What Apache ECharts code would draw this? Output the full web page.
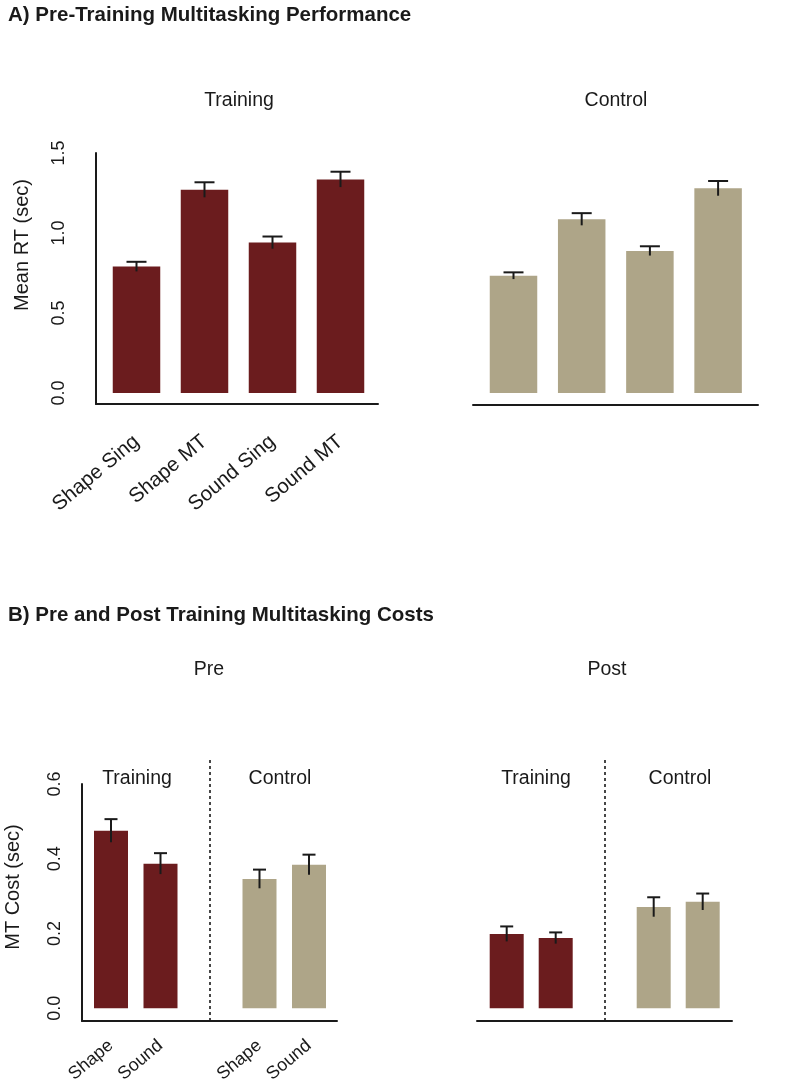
<!DOCTYPE html>
<html><head><meta charset="utf-8">
<script src="https://cdn.jsdelivr.net/npm/echarts@6/dist/echarts.min.js"></script>
<style>html,body{margin:0;padding:0;background:#fff}#c{width:799px;height:1088px}</style>
</head><body><div id="c"></div>
<script>
// ---------- data ----------
const preCategories = ['Shape Sing', 'Shape MT', 'Sound Sing', 'Sound MT'];
const preTrainingRT = [0.79, 1.27, 0.94, 1.335];
const preTrainingRTErr = [0.03, 0.047, 0.038, 0.048];
const preControlRT = [0.733, 1.086, 0.888, 1.279];
const preControlRTErr = [0.021, 0.038, 0.029, 0.046];
const rtTicks = [0, 0.5, 1.0, 1.5];

const costCategories = ['Shape', 'Sound'];
const preTrainingCost = [0.475, 0.387];
const preTrainingCostErr = [0.031, 0.028];
const preControlCost = [0.346, 0.384];
const preControlCostErr = [0.025, 0.027];
const postTrainingCost = [0.199, 0.188];
const postTrainingCostErr = [0.020, 0.015];
const postControlCost = [0.271, 0.285];
const postControlCostErr = [0.026, 0.022];
const costTicks = [0, 0.2, 0.4, 0.6];

// ---------- style ----------
const RED = '#6b1c1e';
const TAN = '#aea588';
const INK = '#1a1a1a';
const FONT = '"Liberation Sans", Arial, Helvetica, sans-serif';

const chart = echarts.init(document.getElementById('c'), null, {renderer: 'canvas'});

// bottom axis categories: training pair, gap, control pair
const costAxis = costCategories.concat([''], costCategories);
const gapIdx = costCategories.length;
function leftPart(arr) { return arr.concat(costAxis.slice(arr.length).map(() => '-')); }
function rightPart(arr) { return costAxis.slice(0, gapIdx + 1).map(() => '-').concat(arr); }
function errData(means, errs, start) { return means.map((m, i) => [start + i, m, errs[i]]); }

function errRender(capW) {
  return function (params, api) {
    const x = api.value(0), m = api.value(1), e = api.value(2);
    const hi = api.coord([x, m + e]);
    const lo = api.coord([x, m - e]);
    const st = {stroke: INK, lineWidth: 2};
    return {type: 'group', children: [
      {type: 'line', shape: {x1: hi[0], y1: hi[1], x2: lo[0], y2: lo[1]}, style: st},
      {type: 'line', shape: {x1: hi[0] - capW / 2, y1: hi[1], x2: hi[0] + capW / 2, y2: hi[1]}, style: st}
    ]};
  };
}

const hidden = {show: false};
function barX(gi, cats, showLabels, margin, size) {
  return {type: 'category', gridIndex: gi, data: cats, boundaryGap: true,
    axisLine: hidden, axisTick: hidden, splitLine: hidden,
    axisLabel: {show: showLabels, interval: 0, rotate: 40, margin: margin,
      fontFamily: FONT, fontSize: size, color: INK}};
}
function barY(gi, max, ticks, showLabels, margin) {
  return {type: 'value', gridIndex: gi, min: 0, max: max,
    axisLine: hidden, axisTick: hidden, splitLine: hidden,
    axisLabel: {show: showLabels, rotate: 90, margin: margin, customValues: ticks,
      formatter: v => v.toFixed(1), fontFamily: FONT, fontSize: 18, color: INK}};
}
const frameLine = {show: true, lineStyle: {color: INK, width: 2}};
function frameAxis(gi, showLine) {
  return {type: 'value', gridIndex: gi, min: 0, max: 1, show: showLine,
    axisLine: frameLine, axisTick: hidden, axisLabel: hidden, splitLine: hidden};
}
function txt(t, x, y) {
  return {type: 'text', x: x, y: y, style: {text: t, font: '19.5px ' + FONT, fill: INK,
    textAlign: 'center', textVerticalAlign: 'middle'}};
}
function rtxt(t, x, y) {
  return {type: 'text', x: x, y: y, rotation: Math.PI / 2, style: {text: t, font: '20px ' + FONT, fill: INK,
    textAlign: 'center', textVerticalAlign: 'middle'}};
}

const option = {
  animation: false,
  backgroundColor: '#fff',
  grid: [
    {left: 102.5, top: 153, width: 272, height: 240},     // 0 TL bars
    {left: 96, top: 153, width: 282, height: 251},        // 1 TL frame
    {left: 479.4, top: 153, width: 272.8, height: 240},   // 2 TR bars
    {left: 473, top: 153, width: 285, height: 252},       // 3 TR frame
    {left: 86.25, top: 784, width: 247.5, height: 224.3}, // 4 BL bars
    {left: 82, top: 784, width: 255, height: 237},        // 5 BL frame
    {left: 86.25, top: 757, width: 247.5, height: 264},   // 6 BL divider
    {left: 482.2, top: 784, width: 245, height: 224.3},   // 7 BR bars
    {left: 477, top: 784, width: 255, height: 237},       // 8 BR frame
    {left: 482.2, top: 757, width: 245, height: 264}      // 9 BR divider
  ],
  xAxis: [
    barX(0, preCategories, true, 46, 20.5),
    frameAxis(1, true),
    barX(2, preCategories, false, 46, 20.5),
    frameAxis(3, true),
    barX(4, costAxis, true, 35, 18),
    frameAxis(5, true),
    {type: 'category', gridIndex: 6, data: costAxis, show: false},
    barX(7, costAxis, false, 35, 18),
    frameAxis(8, true),
    {type: 'category', gridIndex: 9, data: costAxis, show: false}
  ],
  yAxis: [
    barY(0, 1.5, rtTicks, true, 34),
    frameAxis(1, true),
    barY(2, 1.5, rtTicks, false, 34),
    frameAxis(3, false),
    barY(4, 0.6, costTicks, true, 22),
    frameAxis(5, true),
    {type: 'value', gridIndex: 6, min: 0, max: 1, show: false},
    barY(7, 0.6, costTicks, false, 22),
    frameAxis(8, false),
    {type: 'value', gridIndex: 9, min: 0, max: 1, show: false}
  ],
  series: [
    {type: 'bar', name: 'Training', xAxisIndex: 0, yAxisIndex: 0, data: preTrainingRT,
      barWidth: 47.5, itemStyle: {color: RED}},
    {type: 'custom', xAxisIndex: 0, yAxisIndex: 0, renderItem: errRender(20), z: 5,
      data: errData(preTrainingRT, preTrainingRTErr, 0)},
    {type: 'bar', name: 'Control', xAxisIndex: 2, yAxisIndex: 2, data: preControlRT,
      barWidth: 47.5, itemStyle: {color: TAN}},
    {type: 'custom', xAxisIndex: 2, yAxisIndex: 2, renderItem: errRender(20), z: 5,
      data: errData(preControlRT, preControlRTErr, 0)},

    {type: 'bar', name: 'Pre Training', xAxisIndex: 4, yAxisIndex: 4, data: leftPart(preTrainingCost),
      barWidth: 34, barGap: '-100%', itemStyle: {color: RED}},
    {type: 'bar', name: 'Pre Control', xAxisIndex: 4, yAxisIndex: 4, data: rightPart(preControlCost),
      barWidth: 34, barGap: '-100%', itemStyle: {color: TAN}},
    {type: 'custom', xAxisIndex: 4, yAxisIndex: 4, renderItem: errRender(13), z: 5,
      data: errData(preTrainingCost, preTrainingCostErr, 0)},
    {type: 'custom', xAxisIndex: 4, yAxisIndex: 4, renderItem: errRender(13), z: 5,
      data: errData(preControlCost, preControlCostErr, gapIdx + 1)},
    {type: 'line', xAxisIndex: 6, yAxisIndex: 6, data: [], silent: true,
      markLine: {symbol: 'none', silent: true, label: hidden,
        lineStyle: {color: INK, width: 1.6, type: [3, 3]}, data: [{xAxis: gapIdx}]}},

    {type: 'bar', name: 'Post Training', xAxisIndex: 7, yAxisIndex: 7, data: leftPart(postTrainingCost),
      barWidth: 34, barGap: '-100%', itemStyle: {color: RED}},
    {type: 'bar', name: 'Post Control', xAxisIndex: 7, yAxisIndex: 7, data: rightPart(postControlCost),
      barWidth: 34, barGap: '-100%', itemStyle: {color: TAN}},
    {type: 'custom', xAxisIndex: 7, yAxisIndex: 7, renderItem: errRender(13), z: 5,
      data: errData(postTrainingCost, postTrainingCostErr, 0)},
    {type: 'custom', xAxisIndex: 7, yAxisIndex: 7, renderItem: errRender(13), z: 5,
      data: errData(postControlCost, postControlCostErr, gapIdx + 1)},
    {type: 'line', xAxisIndex: 9, yAxisIndex: 9, data: [], silent: true,
      markLine: {symbol: 'none', silent: true, label: hidden,
        lineStyle: {color: INK, width: 1.6, type: [3, 3]}, data: [{xAxis: gapIdx}]}}
  ],
  graphic: [
    {type: 'text', left: 8, top: 5, style: {text: 'A) Pre-Training Multitasking Performance',
      font: 'bold 20.5px ' + FONT, fill: INK}},
    {type: 'text', left: 8, top: 605, style: {text: 'B) Pre and Post Training Multitasking Costs',
      font: 'bold 20.5px ' + FONT, fill: INK}},
    txt('Training', 239, 101), txt('Control', 616, 101),
    txt('Pre', 209, 670), txt('Post', 607, 670),
    txt('Training', 137, 779), txt('Control', 280, 779),
    txt('Training', 536, 779), txt('Control', 680, 779),
    rtxt('Mean RT (sec)', 22, 245), rtxt('MT Cost (sec)', 13, 887)
  ]
};
chart.setOption(option);
</script>
</body></html>
